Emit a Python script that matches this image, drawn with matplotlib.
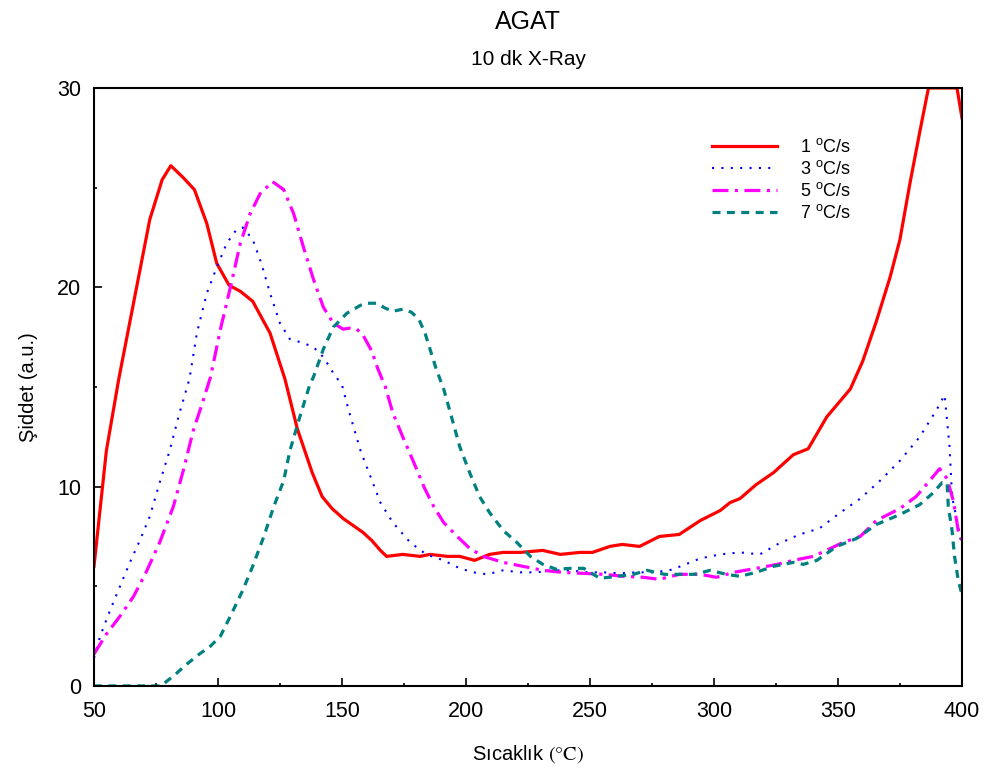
import matplotlib
matplotlib.use("Agg")
import matplotlib.pyplot as plt
from matplotlib.ticker import MultipleLocator

plt.rcParams['font.family'] = 'Liberation Sans'
plt.rcParams['mathtext.fontset'] = 'custom'
plt.rcParams['mathtext.rm'] = 'Liberation Sans'

# heating rate 1 C/s
temp_1 = [50, 55, 60, 65, 72.5, 77.5, 81, 86, 90.5, 95.5, 99.5, 104.5, 109, 114, 121, 127,
          132, 138, 142, 146, 150.5, 158.5, 162, 165.5, 168, 174.5, 181.5, 185.5, 192.5,
          197.5, 203.5, 209.5, 215, 222, 231, 238, 246, 251, 258, 263, 270, 278, 286,
          294.5, 302.5, 306.5, 310.5, 317, 324, 332, 338, 345.5, 355, 360, 365.5, 371,
          375, 379, 383, 386.5, 398, 400]
int_1 = [6.0, 11.8, 15.4, 18.6, 23.4, 25.4, 26.1, 25.5, 24.9, 23.2, 21.2, 20.1, 19.8, 19.3,
         17.7, 15.4, 12.9, 10.7, 9.5, 8.9, 8.4, 7.7, 7.3, 6.8, 6.5, 6.6, 6.5, 6.6, 6.5,
         6.5, 6.3, 6.6, 6.7, 6.7, 6.8, 6.6, 6.7, 6.7, 7.0, 7.1, 7.0, 7.5, 7.6,
         8.3, 8.8, 9.2, 9.4, 10.1, 10.7, 11.6, 11.9, 13.5, 14.9, 16.3, 18.3, 20.5,
         22.4, 25.2, 27.8, 30.0, 30.0, 28.5]

# heating rate 3 C/s
temp_3 = [50, 52.5, 56.5, 60.5, 64.5, 68.5, 72.5, 76.5, 80.5, 84.5, 88.5, 91.5, 95.5, 99.5,
          103.5, 107.5, 110, 114, 117.5, 121, 125, 129, 134.5, 138.5, 142.5, 146.5, 150,
          153, 157.5, 161.5, 165.5, 170.5, 177.5, 184, 191, 197.5, 203, 208.5, 215, 222,
          228.5, 235, 242, 249, 255.5, 262, 269, 275.5, 282, 286.5, 294.5, 302.5, 310.5,
          318.5, 325.5, 334.5, 342.5, 351, 359, 367, 375, 383, 390, 393, 395, 396, 398, 400]
int_3 = [1.4, 2.5, 3.8, 5.0, 6.2, 7.3, 8.5, 10.2, 11.8, 13.7, 15.4, 17.7, 19.7, 21.0,
         22.2, 22.9, 23.0, 22.4, 21.2, 19.7, 18.2, 17.4, 17.2, 17.0, 16.5, 15.7, 15.1,
         13.7, 11.8, 10.5, 9.2, 8.2, 7.2, 6.6, 6.3, 5.9, 5.7, 5.6, 5.8, 5.7,
         5.7, 5.8, 5.8, 5.7, 5.7, 5.65, 5.7, 5.7, 5.8, 6.0, 6.4, 6.6, 6.7,
         6.6, 7.1, 7.6, 7.9, 8.7, 9.4, 10.3, 11.3, 12.5, 13.9, 14.6, 12.0, 9.5, 8.3, 7.0]

# heating rate 5 C/s
temp_5 = [50, 55, 60.5, 66, 71, 76.5, 82, 86, 90, 94, 97, 101, 105, 109, 113, 117, 122,
          126.5, 130.5, 134.5, 138.5, 142.5, 146.5, 150.5, 153, 156, 158.5, 162, 164.5,
          167.5, 170.5, 174.5, 179, 183, 187, 191, 196.5, 201.5, 207, 215, 223, 231, 239,
          247, 255.5, 263.5, 271.5, 278, 286, 294.5, 301, 308, 317, 325.5, 332, 340, 347,
          352, 359, 365.5, 375, 381.5, 387, 391, 394, 396.5, 398.5, 400]
int_5 = [1.6, 2.6, 3.5, 4.5, 5.7, 7.2, 9.0, 10.8, 12.8, 14.3, 15.5, 17.9, 20.0, 22.2, 23.7,
         24.7, 25.3, 24.9, 23.7, 22.0, 20.4, 19.0, 18.2, 17.9, 17.95, 17.9, 17.6, 16.8,
         15.9, 15.0, 13.7, 12.5, 11.2, 10.0, 9.0, 8.2, 7.5, 6.9, 6.5, 6.2, 6.0, 5.8, 5.7,
         5.65, 5.6, 5.5, 5.45, 5.35, 5.6, 5.6, 5.45, 5.7, 5.9, 6.1, 6.3, 6.5, 6.9,
         7.2, 7.5, 8.3, 8.9, 9.5, 10.3, 10.9, 10.4, 9.3, 7.8, 7.3]

# heating rate 7 C/s
temp_7 = [50, 60, 70, 77, 83, 87.5, 92.5, 97, 101, 105, 110, 114, 118.5, 122.5, 126.5, 129,
          133, 137, 138.5, 142.5, 146.5, 152, 157.5, 160, 164, 167.5, 170.5, 174.5, 178,
          181, 183.5, 186, 188, 191, 193.5, 197.5, 201.5, 205.5, 209.5, 215, 220.5, 226,
          231, 236.5, 242, 247.5, 254, 261, 267.5, 273, 280, 286.5, 292, 298.5, 305,
          310.5, 317, 324, 332, 336, 341.5, 349.5, 357.5, 365.5, 375, 383, 388.5, 392,
          394, 394.5, 396, 397, 398.5, 400]
int_7 = [0, 0, 0, 0, 0.6, 1.1, 1.6, 2.0, 2.5, 3.5, 4.8, 6.0, 7.5, 9.0, 10.3, 11.8,
         13.5, 15.1, 15.5, 16.9, 18.0, 18.7, 19.1, 19.2, 19.2, 18.95, 18.8, 18.9, 18.75,
         18.4, 17.7, 16.7, 15.9, 14.9, 13.8, 12.0, 10.7, 9.5, 8.7, 7.8, 7.2, 6.5,
         6.1, 5.85, 5.9, 5.9, 5.4, 5.5, 5.6, 5.8, 5.6, 5.6, 5.6, 5.8, 5.6,
         5.5, 5.7, 6.0, 6.2, 6.1, 6.3, 7.0, 7.4, 8.1, 8.6, 9.1, 9.7, 10.2,
         10.2, 9.0, 7.8, 6.5, 5.3, 4.6]

labels = ['1 $^{\\rm o}$C/s', '3 $^{\\rm o}$C/s', '5 $^{\\rm o}$C/s', '7 $^{\\rm o}$C/s']

fig = plt.figure(figsize=(9.84, 7.69), dpi=100)
ax = fig.add_axes([0.0955, 0.108, 0.8821, 0.7776])

ax.plot(temp_1, int_1, color='#ff0000', lw=2.3, label=labels[0])
ax.plot(temp_3, int_3, color='#0000ff', lw=1.5, linestyle=(0, (1, 3.5)), label=labels[1])
ax.plot(temp_5, int_5, color='#ff00ff', lw=2.3, linestyle=(0, (5, 2, 1, 2)), label=labels[2])
ax.plot(temp_7, int_7, color='#008080', lw=2.3, linestyle=(0, (2.5, 2)), label=labels[3])

ax.set_xlim(50, 400)
ax.set_ylim(0, 30)
ax.xaxis.set_major_locator(MultipleLocator(50))
ax.xaxis.set_minor_locator(MultipleLocator(25))
ax.yaxis.set_major_locator(MultipleLocator(10))
ax.yaxis.set_minor_locator(MultipleLocator(5))
ax.tick_params(which='both', direction='in', labelsize=15.5)
ax.tick_params(axis='x', which='major', length=6, width=1.2, pad=11)
ax.tick_params(axis='y', which='major', length=6, width=1.2, pad=9)
ax.tick_params(which='minor', length=2.5, width=1.2)
for side in ax.spines.values():
    side.set_linewidth(1.5)

ax.set_xlabel('Sıcaklık $(°\\mathrm{C})$', fontsize=14.5, labelpad=15, math_fontfamily='stix')
ax.set_ylabel('Şiddet (a.u.)', fontsize=14.5, labelpad=14)

fig.text(0.5366, 0.972, 'AGAT', ha='center', va='center', fontsize=18)
fig.text(0.5366, 0.923, '10 dk X-Ray', ha='center', va='center', fontsize=15)

ax.legend(loc='upper left', bbox_to_anchor=(0.712, 0.916), frameon=False, fontsize=13,
          handlelength=3.6, handletextpad=1.3, labelspacing=0.22, borderpad=0, borderaxespad=0)

fig.savefig('out.png', dpi=100)
